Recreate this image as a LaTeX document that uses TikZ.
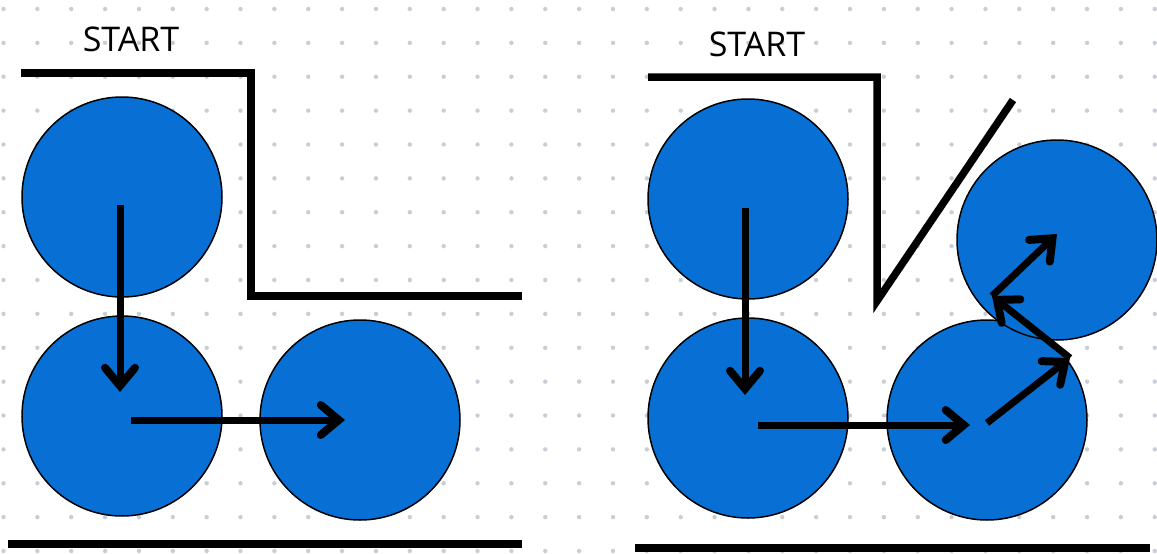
\documentclass[tikz,border=0pt]{standalone}
\usepackage{fontspec}
\newfontfamily\startfont{Open Sans}
\usetikzlibrary{arrows.meta}
\definecolor{ballblue}{RGB}{8,112,212}
\definecolor{dotgray}{RGB}{200,205,216}
\tikzset{
  ball/.style={circle, draw=black, line width=1.5pt, fill=ballblue, minimum size=200pt, inner sep=0pt},
  wall/.style={line width=7.5pt, line cap=butt, line join=miter},
  move/.style={line width=7pt, -{Straight Barb[length=18pt, width=30pt, line width=8pt, line cap=round]}},
  label/.style={font=\startfont\fontsize{34}{40}\selectfont, inner sep=0pt}
}
\begin{document}
\begin{tikzpicture}[x=1pt,y=-1pt]
\useasboundingbox (0,0) rectangle (1157,554);
\fill[white] (0,0) rectangle (1157,554);
% dot grid
\foreach \i in {0,...,34}{
  \foreach \j in {0,...,16}{
    \fill[dotgray] ({3.5+33.86*\i},{9+33.875*\j}) circle (2.2pt);
  }
}
% ===== left panel =====
\node[label] (startL) at (131,39) {START};
\coordinate (wL1) at (21,73);
\coordinate (wL2) at (251,73);
\coordinate (wL3) at (251,296);
\coordinate (wL4) at (522,296);
\draw[wall] (wL1) -- (wL2) -- (wL3) -- (wL4);
\coordinate (fL1) at (8,544);
\coordinate (fL2) at (522,544);
\draw[wall] (fL1) -- (fL2);
\node[ball] (bL1) at (122,197) {};
\node[ball] (bL2) at (122,416) {};
\node[ball] (bL3) at (360,420) {};
\coordinate (aL1s) at (120,205);
\coordinate (aL1e) at (120,392);
\coordinate (aL2s) at (131,420);
\coordinate (aL2e) at (345,420);
\draw[move] (aL1s) -- (aL1e);
\draw[move] (aL2s) -- (aL2e);
% ===== right panel =====
\node[label] (startR) at (757,44) {START};
\coordinate (wR1) at (648,77);
\coordinate (wR2) at (877,77);
\coordinate (wR3) at (877,301);
\coordinate (wR4) at (1013,100);
\draw[wall] (wR1) -- (wR2) -- (wR3) -- (wR4);
\coordinate (fR1) at (635,548);
\coordinate (fR2) at (1150,548);
\draw[wall] (fR1) -- (fR2);
\node[ball] (bR1) at (748,199) {};
\node[ball] (bR2) at (748,418) {};
\node[ball] (bR3) at (987,420) {};
\node[ball] (bR4) at (1057,240) {};
\coordinate (aR1s) at (745,208);
\coordinate (aR1e) at (745,395);
\coordinate (aR2s) at (758,425);
\coordinate (aR2e) at (970,425);
\coordinate (aR3s) at (987,423);
\coordinate (aR3e) at (1070,358);
\coordinate (aR4e) at (992,296);
\coordinate (aR5e) at (1057,234);
\draw[move] (aR1s) -- (aR1e);
\draw[move] (aR2s) -- (aR2e);
\draw[move] (aR3s) -- (aR3e);
\draw[move] (aR3e) -- (aR4e);
\draw[move] (aR4e) -- (aR5e);
\end{tikzpicture}
\end{document}
